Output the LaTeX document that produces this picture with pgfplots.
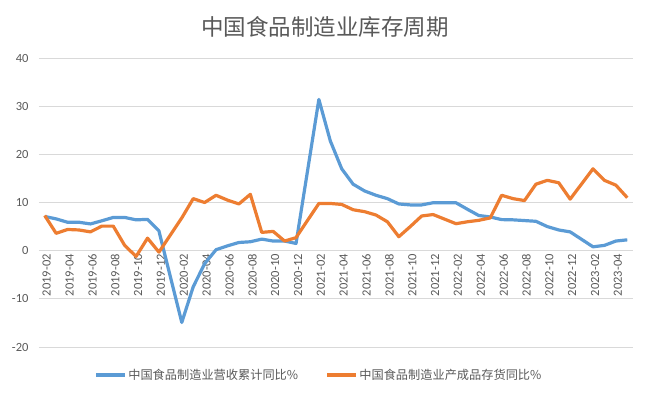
\documentclass[border=0pt]{standalone}
\usepackage{pgfplots}
\pgfplotsset{compat=1.18}
\usepackage{fontspec}
\setmainfont{Carlito}
\newfontfamily\cjk{Noto Sans CJK SC}
\definecolor{sblue}{HTML}{5B9BD5}
\definecolor{sorange}{HTML}{ED7D31}
\definecolor{txt}{HTML}{595959}
\definecolor{grid}{HTML}{D9D9D9}
\begin{document}
\begin{tikzpicture}
\begin{axis}[
  at={(39pt,-347pt)}, anchor=south west,
  scale only axis, width=594pt, height=289pt,
  xmin=-0.5, xmax=51.5, ymin=-20, ymax=40,
  axis x line*=middle, axis y line*=left,
  x axis line style={draw=grid, line width=0.8pt},
  y axis line style={draw=none},
  ytick={-20,-10,0,10,20,30,40},
  yticklabels={-20,-10,0,10,20,30,40},
  ytick style={draw=none},
  ymajorgrids, grid style={draw=grid, line width=0.8pt},
  yticklabel style={font=\fontsize{12.5}{14}\selectfont, text=txt, xshift=-7pt},
  xtick={0,2,...,50},
  xticklabels={2019-02,2019-04,2019-06,2019-08,2019-10,2019-12,2020-02,2020-04,2020-06,2020-08,2020-10,2020-12,2021-02,2021-04,2021-06,2021-08,2021-10,2021-12,2022-02,2022-04,2022-06,2022-08,2022-10,2022-12,2023-02,2023-04},
  xticklabel style={font=\fontsize{12.5}{14}\selectfont, text=txt, rotate=90, anchor=east, yshift=-2pt},
  x tick style={draw=none},
  major tick length=0pt,
  extra x ticks={-0.5,1.5,...,51.5},
  extra x tick labels={},
  extra x tick style={major tick length=10pt, tick style={draw=grid, line width=0.8pt}, xticklabel style={draw=none}},
  clip=false,
  legend columns=2,
  legend style={at={(0.471,-0.097)}, anchor=center, draw=none, fill=none,
    font=\cjk\fontsize{12.2}{14}\selectfont, text=txt,
    /tikz/every even column/.append style={column sep=26pt},
    nodes={inner sep=1.5pt}},
  legend image code/.code={\draw[#1, line width=3.2pt] (0pt,0pt) -- (29pt,0pt);},
  line join=round,
]
\addplot[sblue, line width=3.2pt, mark=none] coordinates {
(0,7.1)(1,6.6)(2,5.9)(3,5.9)(4,5.55)(5,6.2)(6,6.9)(7,6.9)(8,6.4)(9,6.5)(10,4.1)
(12,-14.9)(13,-7.5)(14,-2.7)(15,0.2)(16,1.0)(17,1.7)(18,1.85)(19,2.4)(20,2.0)(21,2.0)(22,1.5)
(24,31.4)(25,22.8)(26,17.0)(27,13.8)(28,12.4)(29,11.5)(30,10.8)(31,9.7)(32,9.5)(33,9.5)(34,9.95)
(36,9.95)(37,8.6)(38,7.3)(39,7.0)(40,6.45)(41,6.4)(42,6.25)(43,6.1)(44,5.0)(45,4.3)(46,3.9)
(48,0.8)(49,1.1)(50,2.0)(51,2.25)
};
\addlegendentry{中国食品制造业营收累计同比\%}
\addplot[sorange, line width=3.2pt, mark=none] coordinates {
(0,7.3)(1,3.6)(2,4.4)(3,4.3)(4,3.9)(5,5.1)(6,5.1)(7,1.1)(8,-1.2)(9,2.6)(10,-0.3)
(12,6.8)(13,10.8)(14,10.0)(15,11.5)(16,10.5)(17,9.7)(18,11.7)(19,3.8)(20,4.0)(21,2.0)(22,2.7)
(24,9.8)(25,9.8)(26,9.6)(27,8.5)(28,8.1)(29,7.4)(30,6.0)(31,2.9)(32,5.0)(33,7.2)(34,7.5)
(36,5.6)(37,6.0)(38,6.3)(39,6.8)(40,11.5)(41,10.8)(42,10.4)(43,13.8)(44,14.6)(45,14.1)(46,10.7)
(48,17.0)(49,14.6)(50,13.6)(51,11.0)
};
\addlegendentry{中国食品制造业产成品存货同比\%}
\end{axis}
\node[text=txt, font=\cjk\fontsize{22.5}{26}\selectfont] at (325pt,-27pt) {中国食品制造业库存周期};
\pgfresetboundingbox
\useasboundingbox (0,0) rectangle (650pt,-396pt);
\end{tikzpicture}
\end{document}
